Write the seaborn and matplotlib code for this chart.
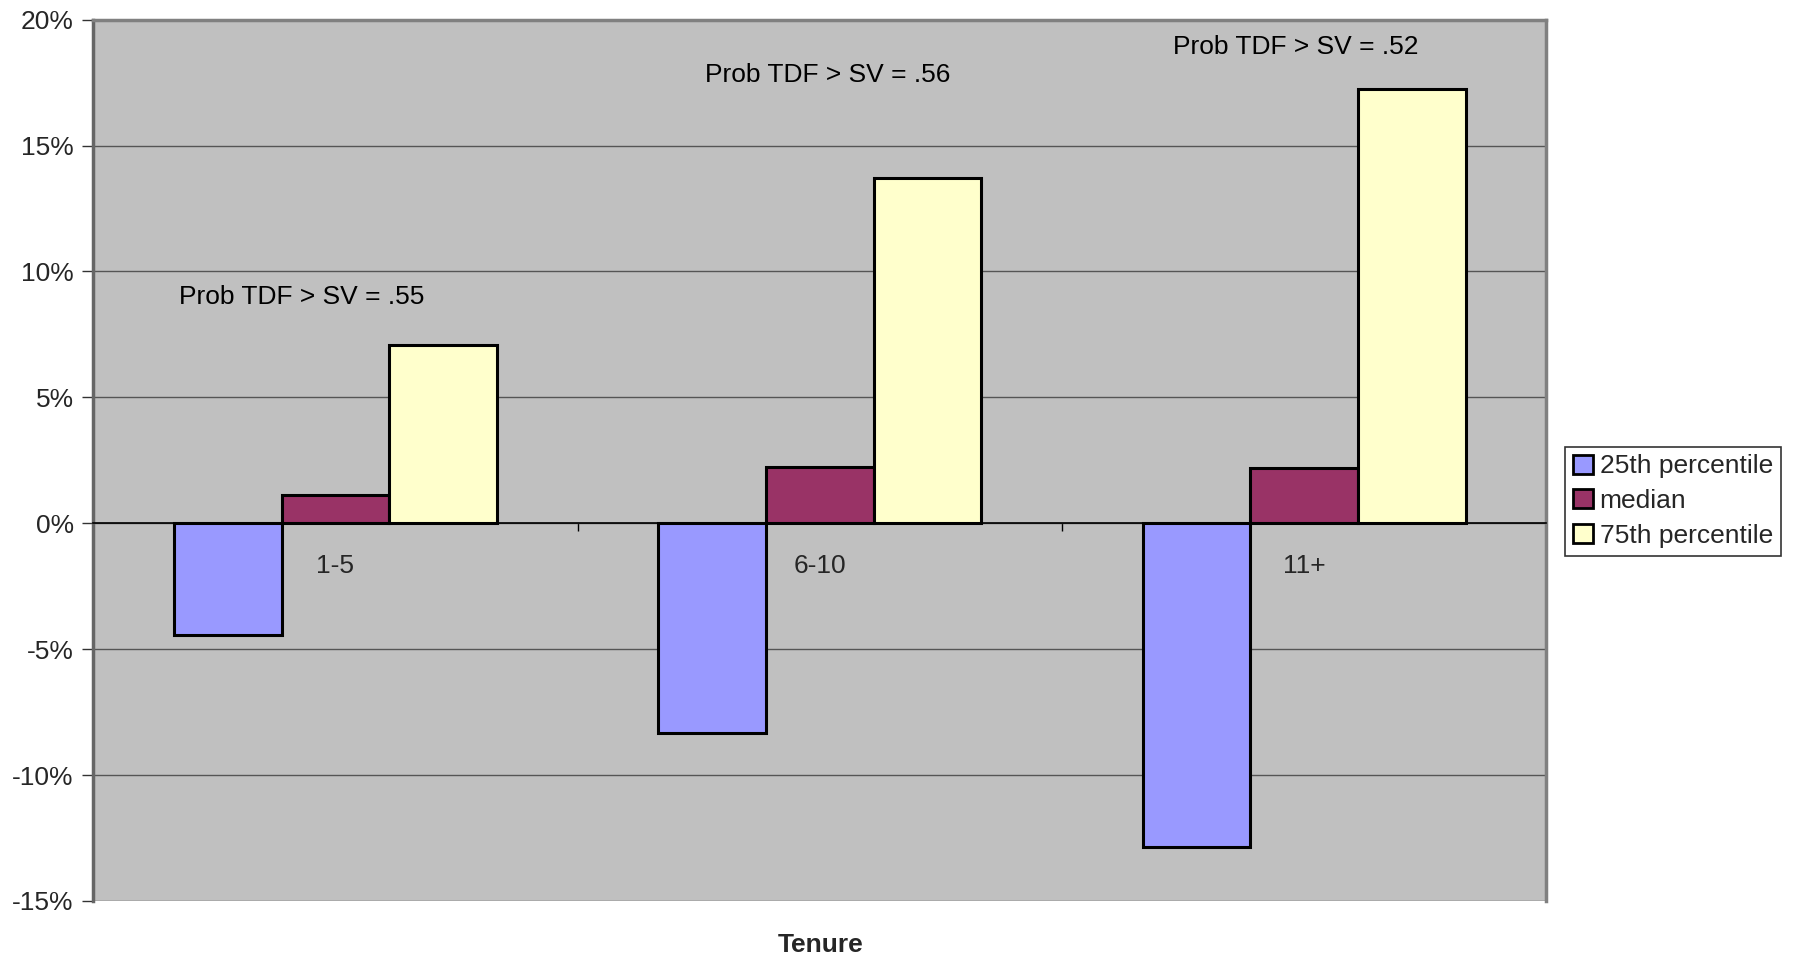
import matplotlib
matplotlib.use("Agg")
import matplotlib.pyplot as plt
import seaborn as sns
import pandas as pd
from matplotlib.ticker import FuncFormatter, FixedLocator
from matplotlib.patches import Patch

# ---- data ----
tenure = ["1-5", "6-10", "11+"]
p25 = [-0.0445, -0.0831, -0.1285]
median = [0.0113, 0.0222, 0.0218]
p75 = [0.0708, 0.1371, 0.1725]
series_names = ["25th percentile", "median", "75th percentile"]
prob_labels = ["Prob TDF > SV = .55", "Prob TDF > SV = .56", "Prob TDF > SV = .52"]

colors = ["#9999FF", "#993366", "#FFFFCC"]

df = pd.DataFrame({
    "Tenure": tenure * 3,
    "value": p25 + median + p75,
    "series": sum([[s] * 3 for s in series_names], []),
})

sns.set_theme(style="white")
plt.rcParams["font.family"] = ["Liberation Sans", "DejaVu Sans"]

FS = 19

fig = plt.figure(figsize=(17.94, 9.58), dpi=100)
ax = fig.add_axes([0.052, 0.0595, 0.810, 0.920])
ax.set_facecolor("#C0C0C0")

sns.barplot(data=df, x="Tenure", y="value", hue="series", palette=colors,
            width=0.667, gap=0, edgecolor="black", linewidth=2.2,
            saturation=1, ax=ax, legend=False, zorder=3)

ax.set_xlim(-0.5, 2.5)
ax.set_ylim(-0.15, 0.20)
ax.set_yticks([-0.15, -0.10, -0.05, 0, 0.05, 0.10, 0.15, 0.20])
ax.yaxis.set_major_formatter(FuncFormatter(lambda v, p: f"{round(v*100):d}%"))
ax.tick_params(axis="y", labelsize=FS, length=8, width=1, color="#333333",
               direction="out", left=True, pad=6)
ax.grid(axis="y", color="#555555", linewidth=1, zorder=0)
ax.set_axisbelow(True)

# x axis at zero
ax.spines["bottom"].set_position(("data", 0))
ax.spines["bottom"].set_color("black")
ax.spines["bottom"].set_linewidth(1.2)
ax.spines["bottom"].set_zorder(4)
for s in ["top", "right", "left"]:
    ax.spines[s].set_color("#808080")
    ax.spines[s].set_linewidth(2.5)
ax.spines["left"].set_color("#666666")

ax.set_xticks([0, 1, 2])
ax.set_xticklabels(tenure)
ax.xaxis.set_minor_locator(FixedLocator([0.5, 1.5]))
ax.tick_params(axis="x", which="major", length=0, labelsize=FS, pad=22)
ax.tick_params(axis="x", which="minor", length=6, width=1, color="black",
               direction="out", bottom=True)
ax.set_xlabel("")
ax.set_ylabel("")

# annotations
ann_pos = [(-0.069, 0.090), (1.016, 0.178), (1.982, 0.189)]
for (x, y), t in zip(ann_pos, prob_labels):
    ax.text(x, y, t, ha="center", va="center", fontsize=FS, color="black", zorder=5)

fig.text(0.4577, 0.0136, "Tenure", ha="center", va="center",
         fontsize=FS, fontweight="bold")

handles = [Patch(facecolor=c, edgecolor="black", linewidth=2, label=n)
           for c, n in zip(colors, series_names)]
leg = fig.legend(handles=handles, loc="center left",
                 bbox_to_anchor=(0.8725, 0.477), fontsize=FS, frameon=True,
                 fancybox=False, edgecolor="black", handlelength=0.75,
                 handleheight=0.75, handletextpad=0.25, borderpad=0.3,
                 labelspacing=0.4, borderaxespad=0)
leg.get_frame().set_linewidth(1.2)

fig.savefig("out.png", dpi=100, facecolor="white")
